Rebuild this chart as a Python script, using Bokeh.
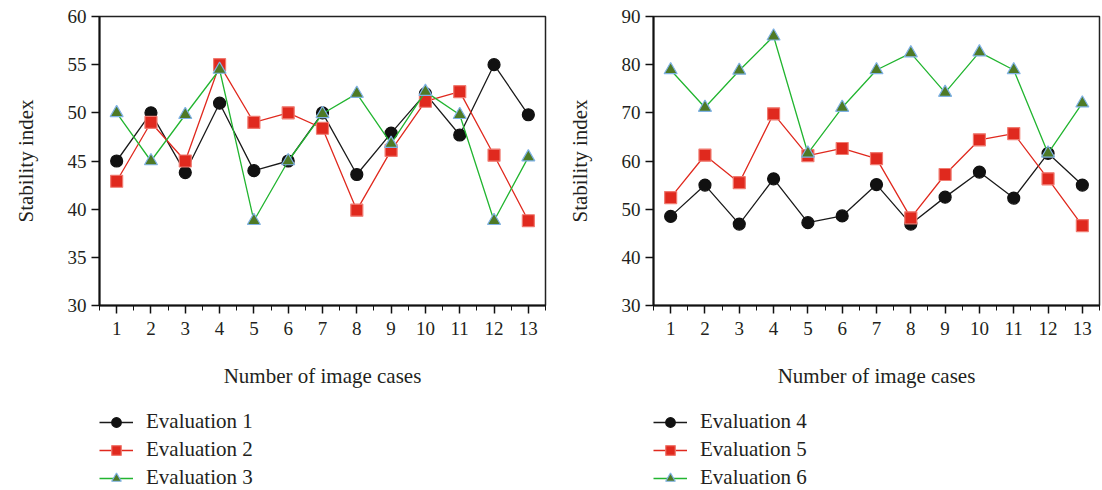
from bokeh.plotting import figure
from bokeh.layouts import row, column
from bokeh.models import FixedTicker, Legend, LegendItem, Range1d
from bokeh.embed import file_html
from bokeh.resources import INLINE

cases = list(range(1, 14))

eval1 = [45.0, 50.0, 43.8, 51.0, 44.0, 45.0, 50.0, 43.6, 47.9, 52.0, 47.7, 55.0, 49.8]
eval2 = [42.9, 49.0, 45.0, 55.0, 49.0, 50.0, 48.4, 39.9, 46.1, 51.2, 52.2, 45.6, 38.8]
eval3 = [50.0, 45.0, 49.8, 54.5, 38.8, 45.0, 49.9, 52.0, 46.8, 52.2, 49.8, 38.8, 45.4]

eval4 = [48.5, 55.0, 46.9, 56.3, 47.2, 48.6, 55.1, 46.9, 52.5, 57.7, 52.3, 61.6, 55.0]
eval5 = [52.4, 61.2, 55.5, 69.8, 61.1, 62.6, 60.5, 48.2, 57.2, 64.4, 65.7, 56.3, 46.6]
eval6 = [78.9, 71.1, 78.8, 85.9, 61.6, 71.1, 78.9, 82.4, 74.2, 82.6, 78.9, 61.6, 72.0]

labels_left = ["Evaluation 1", "Evaluation 2", "Evaluation 3"]
labels_right = ["Evaluation 4", "Evaluation 5", "Evaluation 6"]

x_label = "Number of image cases"
y_label = "Stability index"

FONT = "Liberation Serif"
TXT = "#231f20"

STYLES = [
    dict(line="#1a1a1a", marker="circle", fill="#111111", mline="#111111", size=12),
    dict(line="#e0291e", marker="square", fill="#e0291e", mline="#f07a70", size=12),
    dict(line="#22b530", marker="triangle", fill="#4e7a26", mline="#7fb2e5", size=13),
]


def style_markers(p, xs, ys, st, lw=1.3):
    r1 = p.line(xs, ys, line_color=st["line"], line_width=lw)
    r2 = p.scatter(xs, ys, marker=st["marker"], size=st["size"],
                   fill_color=st["fill"], line_color=st["mline"], line_width=1.2)
    return r1, r2


def make(series, yr, yticks, width, mbl, mbr):
    p = figure(width=width, height=390, output_backend="svg", toolbar_location=None,
               x_range=Range1d(0.5, 13.5), y_range=Range1d(*yr),
               min_border_left=mbl, min_border_right=mbr,
               min_border_top=16, min_border_bottom=85)
    p.grid.visible = False
    p.outline_line_color = "#222222"
    p.outline_line_width = 1.5

    for ys, st in zip(series, STYLES):
        style_markers(p, cases, ys, st)

    xa = p.xaxis[0]
    xa.ticker = FixedTicker(ticks=cases, minor_ticks=[c - 0.5 for c in cases] + [13.5])
    xa.axis_label = x_label
    xa.major_tick_out = 8
    xa.major_tick_in = 0
    xa.minor_tick_out = 5
    xa.minor_tick_in = 0
    xa.major_label_standoff = 8
    xa.axis_label_standoff = 26

    ya = p.yaxis[0]
    ya.ticker = FixedTicker(ticks=yticks, minor_ticks=[])
    ya.axis_label = y_label
    ya.major_tick_out = 8
    ya.major_tick_in = 0
    ya.major_label_standoff = 5
    ya.axis_label_standoff = 27

    for ax in (xa, ya):
        ax.axis_line_width = 2
        ax.axis_line_color = "#111111"
        ax.major_tick_line_color = "#111111"
        ax.minor_tick_line_color = "#111111"
        ax.major_tick_line_width = 1.5
        ax.major_label_text_font = FONT
        ax.major_label_text_font_size = "19px"
        ax.major_label_text_color = TXT
        ax.axis_label_text_font = FONT
        ax.axis_label_text_font_size = "21px"
        ax.axis_label_text_font_style = "normal"
        ax.axis_label_text_color = TXT
    return p


def make_legend(series, labels, width, mbl, mbr):
    # the series are drawn off-range so that only their legend glyphs show
    q = figure(width=width, height=100, output_backend="svg", toolbar_location=None,
               x_range=Range1d(-100, -99), y_range=Range1d(-100, -99),
               min_border_left=mbl, min_border_right=mbr,
               min_border_top=19, min_border_bottom=0)
    q.axis.visible = False
    q.grid.visible = False
    q.outline_line_color = None
    items = []
    for ys, lab, st in zip(series, labels, STYLES):
        r1, r2 = style_markers(q, cases, ys, st)
        items.append(LegendItem(label=lab, renderers=[r1, r2]))
    leg = Legend(items=items, location="top_left", orientation="vertical")
    leg.label_text_font = FONT
    leg.label_text_font_size = "21px"
    leg.label_text_color = TXT
    leg.glyph_width = 34
    leg.glyph_height = 24
    leg.label_height = 18
    leg.label_standoff = 13
    leg.spacing = 3
    leg.padding = 0
    leg.margin = 0
    leg.background_fill_alpha = 0
    leg.border_line_alpha = 0
    q.add_layout(leg)
    return q


p1 = make([eval1, eval2, eval3], (30, 60), [30, 35, 40, 45, 50, 55, 60], 560, 98, 15)
l1 = make_legend([eval1, eval2, eval3], labels_left, 560, 99, 15)
p2 = make([eval4, eval5, eval6], (30, 90), [30, 40, 50, 60, 70, 80, 90], 542, 92, 3)
l2 = make_legend([eval4, eval5, eval6], labels_right, 542, 93, 3)

layout = row(column(p1, l1), column(p2, l2))
open("out.html", "w").write(file_html(layout, INLINE))
